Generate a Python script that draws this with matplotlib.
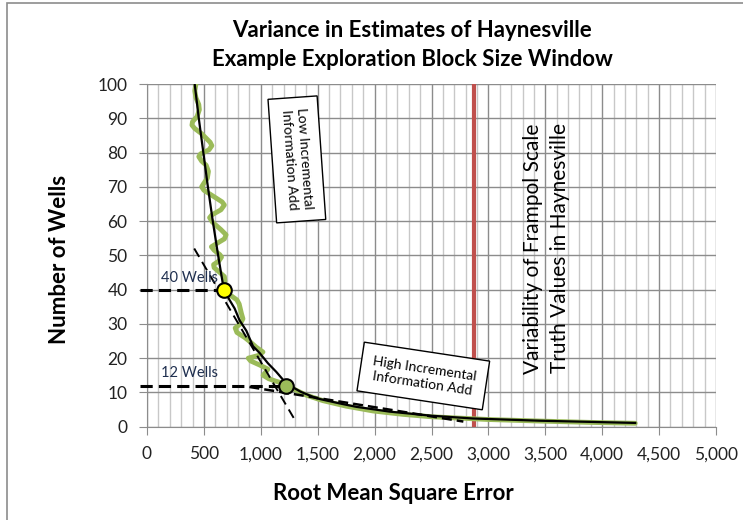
import matplotlib.pyplot as plt
from matplotlib.patches import Rectangle

plt.rcParams['font.family'] = ['Lato', 'DejaVu Sans']

# smooth fitted curve (RMSE, wells)
fit_rmse = [419, 455, 495, 535, 578, 625, 675, 725, 770, 814, 873, 931, 990, 1063, 1136, 1224,
            1350, 1488, 1692, 1839, 2131, 2500, 2863, 3449, 3900, 4290]
fit_wells = [100, 90, 80, 70, 60, 50, 40, 37, 34.5, 31, 28, 23.5, 21.5, 18.5, 16, 12.6,
             10.2, 8.3, 6.8, 5.8, 4.4, 3.2, 2.4, 1.75, 1.4, 1.1]

# noisy estimates (RMSE, wells)
est_rmse = [430, 420, 430, 455, 460, 440, 400, 395, 420, 480, 555, 570, 545, 470, 455, 480,
            520, 540, 530, 495, 480, 500, 580, 660, 680, 650, 570, 550, 575, 650, 695, 680,
            600, 566, 590, 640, 655, 630, 585, 590, 640, 680, 685, 670, 690, 740, 790, 810,
            830, 843, 820, 775, 790, 860, 905, 960, 1019, 980, 890, 910, 990, 1063, 1040, 1020,
            1070, 1130, 1224, 1300, 1400, 1546, 1750, 1985, 2250, 2500, 3000, 3500, 3900, 4290]
est_wells = [100, 98, 96, 94, 92.5, 90.5, 89, 88, 87, 85.5, 83, 82, 80.8, 79.6, 78.8, 77.5,
             76.3, 74.5, 72.5, 70.8, 70, 69, 67.3, 65.6, 64.7, 63.3, 61.8, 61, 59.7, 57.5, 56, 54.8,
             53.2, 52.5, 51.5, 50.2, 49.5, 48.3, 47.3, 46.4, 45, 43.8, 42.5, 41, 39.5, 38.2, 37, 35.8,
             33, 31.5, 30, 28.8, 27.5, 26, 24.8, 23.2, 21.8, 20.8, 20, 19.2, 18, 16.8, 15.8, 15,
             14, 13.3, 12.4, 10.8, 9.2, 7.6, 6.0, 4.6, 3.6, 2.9, 2.1, 1.6, 1.25, 1.0]

# picked points
pick_rmse = [675, 1224]
pick_wells = [40, 12]
pick_labels = ['40 Wells', '12 Wells']

# tangent guide lines
steep_rmse = [415, 1290]
steep_wells = [52, 2.5]
shallow_rmse = [900, 2780]
shallow_wells = [11.6, 1.5]

frampol_rmse = 2875

xticks = [0, 500, 1000, 1500, 2000, 2500, 3000, 3500, 4000, 4500, 5000]
xtick_labels = ['0', '500', '1,000', '1,500', '2,000', '2,500', '3,000', '3,500', '4,000', '4,500', '5,000']
yticks = [0, 10, 20, 30, 40, 50, 60, 70, 80, 90, 100]

fig = plt.figure(figsize=(7.43, 5.20), dpi=100)
ax = fig.add_axes([147 / 743, 1 - 426.7 / 520, 569 / 743, 342.7 / 520])

# chart area border
fig.patches.append(Rectangle((7 / 743, -0.1), 1.2, 1.1 - 3.3 / 520, transform=fig.transFigure,
                             fill=False, ec='#8c8c8c', lw=1.2))

ax.set_xlim(0, 5000)
ax.set_ylim(0, 100)
ax.set_xticks(xticks)
ax.set_xticklabels(xtick_labels)
ax.set_yticks(yticks)
ax.set_xticks(range(0, 5001, 100), minor=True)
ax.tick_params(axis='both', which='major', labelsize=12.5, length=6, color='#8c8c8c', labelcolor='#222222', pad=8)
ax.tick_params(axis='x', which='minor', length=0)
ax.grid(True, which='major', color='#8c8c8c', lw=1)
ax.grid(True, which='minor', axis='x', color='#c8c8c8', lw=1)
ax.set_axisbelow(True)
for s in ['top', 'right']:
    ax.spines[s].set_visible(False)
for s in ['left', 'bottom']:
    ax.spines[s].set_color('#8c8c8c')

ax.axvline(frampol_rmse, color='#c0504d', lw=3, zorder=3)

ax.plot(est_rmse, est_wells, color='#9bbb59', lw=3.5, solid_joinstyle='round', solid_capstyle='round', zorder=4)
ax.plot(fit_rmse, fit_wells, color='black', lw=1.6, zorder=5)

ax.plot(steep_rmse, steep_wells, color='black', lw=1.4, ls=(0, (5, 3)), zorder=6)
ax.plot(shallow_rmse, shallow_wells, color='black', lw=1.8, ls=(0, (4, 2)), zorder=6)
for xv, yv in zip(pick_rmse, pick_wells):
    ax.plot([-60, xv], [yv, yv], color='black', lw=2.2, ls=(0, (4, 2)), zorder=6, clip_on=False)

ax.plot(pick_rmse[0], pick_wells[0], 'o', ms=10.5, mfc='#ffff00', mec='black', mew=1.5, zorder=8)
ax.plot(pick_rmse[1], pick_wells[1], 'o', ms=10.5, mfc='#9bbb59', mec='black', mew=1.5, zorder=8)

ax.text(125, 43.4, pick_labels[0], fontsize=10.5, va='center', color='#1f2f4f', zorder=7)
ax.text(125, 15.6, pick_labels[1], fontsize=10.5, va='center', color='#1f2f4f', zorder=7)

ax.text(1317, 78, 'Low Incremental\nInformation Add', fontsize=10, rotation=-86, ha='center', va='center',
        rotation_mode='anchor', linespacing=1.3, zorder=9,
        bbox=dict(boxstyle='square,pad=0.8', fc='white', ec='black', lw=1))
ax.text(2428, 14.8, 'High Incremental\nInformation Add', fontsize=10, rotation=-8.6, ha='center', va='center',
        rotation_mode='anchor', linespacing=1.3, zorder=9,
        bbox=dict(boxstyle='square,pad=0.8', fc='white', ec='black', lw=1))

ax.text(3511, 52, 'Variability of Frampol Scale\nTruth Values in Haynesville', fontsize=15, rotation=90,
        ha='center', va='center', linespacing=1.45, zorder=9)

fig.text(412 / 743, 1 - 45 / 520, 'Variance in Estimates of Haynesville\nExample Exploration Block Size Window',
         fontsize=16, fontweight='bold', ha='center', va='center', linespacing=1.45)
fig.text(60 / 743, 1 - 259 / 520, 'Number of Wells', fontsize=16, fontweight='bold', rotation=90,
         ha='center', va='center')
fig.text(393 / 743, 1 - 493 / 520, 'Root Mean Square Error', fontsize=16, fontweight='bold',
         ha='center', va='center')

fig.savefig('out.png', dpi=100)
